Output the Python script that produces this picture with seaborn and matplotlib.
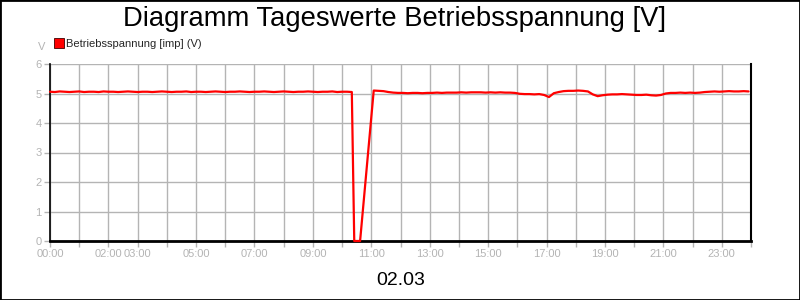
import numpy as np
import pandas as pd
import matplotlib
matplotlib.use("Agg")
import matplotlib.pyplot as plt
import seaborn as sns
from matplotlib.lines import Line2D
from matplotlib.patches import Rectangle

# ---- data (minutes since midnight, volts) ----
minutes_before = list(range(0, 630, 10))          # 00:00 .. 10:20
volts_before = [
    5.06, 5.05, 5.07, 5.06, 5.05, 5.06, 5.07, 5.05, 5.06, 5.06,
    5.05, 5.07, 5.06, 5.06, 5.05, 5.06, 5.07, 5.06, 5.05, 5.06,
    5.06, 5.05, 5.06, 5.07, 5.06, 5.05, 5.06, 5.06, 5.07, 5.05,
    5.06, 5.06, 5.05, 5.06, 5.07, 5.06, 5.05, 5.06, 5.06, 5.07,
    5.06, 5.05, 5.06, 5.06, 5.07, 5.06, 5.05, 5.06, 5.07, 5.06,
    5.05, 5.06, 5.06, 5.07, 5.06, 5.05, 5.06, 5.06, 5.07, 5.05,
    5.06, 5.06, 5.05,
]
minutes_outage = [625, 637]
volts_outage = [0.0, 0.0]
minutes_after = list(range(665, 1440, 10))         # 11:05 .. 23:55
volts_after = [
    5.10, 5.09, 5.08, 5.05, 5.03, 5.02, 5.02, 5.01, 5.02, 5.02,
    5.01, 5.02, 5.02, 5.03, 5.02, 5.03, 5.03, 5.03, 5.04, 5.03,
    5.04, 5.04, 5.04, 5.03, 5.04, 5.03, 5.04, 5.03, 5.03, 5.02,
    4.99, 4.98, 4.98, 4.97, 4.98, 4.95, 4.88, 5.01, 5.05, 5.08,
    5.09, 5.09, 5.10, 5.09, 5.07, 4.97, 4.91, 4.94, 4.96, 4.97,
    4.97, 4.98, 4.97, 4.96, 4.95, 4.95, 4.96, 4.94, 4.93, 4.95,
    5.00, 5.02, 5.02, 5.03, 5.02, 5.03, 5.02, 5.03, 5.05, 5.06,
    5.07, 5.06, 5.07, 5.08, 5.07, 5.07, 5.08, 5.07,
]
tick_labels = ["00:00", "02:00", "03:00", "05:00", "07:00", "09:00", "11:00",
               "13:00", "15:00", "17:00", "19:00", "21:00", "23:00"]
title = "Diagramm Tageswerte Betriebsspannung [V]"
series_name = "Betriebsspannung [imp] (V)"
day_label = "02.03"

df = pd.DataFrame({
    "hour": np.array(minutes_before + minutes_outage + minutes_after) / 60.0,
    "volt": volts_before + volts_outage + volts_after,
})

sns.set_theme(style="white")
plt.rcParams["font.family"] = ["Liberation Sans", "DejaVu Sans"]

fig = plt.figure(figsize=(8, 3), dpi=100)
ax = fig.add_axes([50 / 800, 59 / 300, 701 / 800, 177 / 300])

sns.lineplot(data=df, x="hour", y="volt", ax=ax, color="#ff0000", linewidth=1.6,
             sort=False, estimator=None)
for ln in ax.lines:
    ln.set_clip_on(False)
    ln.set_zorder(5)

grey = "#b4b4b4"
ax.set_xlim(0, 24)
ax.set_ylim(0, 6)
ax.set_xticks(range(0, 25))
label_hours = [int(s[:2]) for s in tick_labels]
ax.set_xticklabels([f"{h:02d}:00" if h in label_hours else "" for h in range(0, 25)])
ax.set_yticks(range(0, 7))
ax.grid(True, color=grey, linewidth=1)
ax.tick_params(axis="both", colors=grey, labelcolor=grey, labelsize=8,
               length=4, width=1, direction="out", bottom=True, left=True)
ax.tick_params(axis="x", pad=2)
ax.tick_params(axis="y", pad=2)
ax.set_xlabel(day_label, fontsize=14, color="black", labelpad=9)
ax.set_ylabel("")

for side in ["left", "bottom", "right"]:
    ax.spines[side].set_visible(True)
    ax.spines[side].set_color("black")
    ax.spines[side].set_zorder(4)
ax.spines["bottom"].set_linewidth(2)
ax.spines["left"].set_linewidth(1.2)
ax.spines["right"].set_linewidth(1.5)
ax.spines["top"].set_visible(False)

fig.text(395 / 800, 1 - 19 / 300, title, ha="center", va="center", fontsize=19.7, color="black")
fig.text(42 / 800, 1 - 47 / 300, "V", ha="center", va="center", fontsize=8, color=grey)

handle = Line2D([], [], marker="s", linestyle="none", markersize=7,
                markerfacecolor="#ff0000", markeredgecolor="#400000", markeredgewidth=0.6)
fig.legend([handle], [series_name], loc="center left",
           bbox_to_anchor=(53 / 800, 1 - 44 / 300), frameon=False, fontsize=8,
           handletextpad=0.2, borderpad=0, borderaxespad=0, handlelength=1)

fig.patches.append(Rectangle((0, 0), 1, 1, transform=fig.transFigure, fill=False,
                             edgecolor="black", linewidth=2))

fig.savefig("out.png", dpi=100)
